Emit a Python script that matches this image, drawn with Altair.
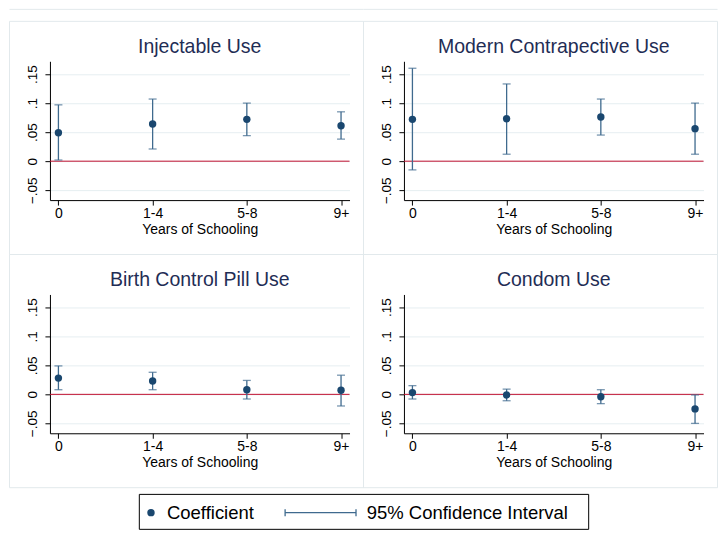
import json
import altair as alt
import pandas as pd

# ---------------- data ----------------
categories = ["0", "1-4", "5-8", "9+"]
panel_titles = ["Injectable Use", "Modern Contrapective Use",
                "Birth Control Pill Use", "Condom Use"]

injectable_coef = [0.049, 0.064, 0.072, 0.061]
injectable_lo = [0.002, 0.021, 0.044, 0.038]
injectable_hi = [0.097, 0.107, 0.100, 0.085]

modern_coef = [0.072, 0.073, 0.076, 0.056]
modern_lo = [-0.015, 0.012, 0.045, 0.012]
modern_hi = [0.160, 0.133, 0.107, 0.100]

pill_coef = [0.028, 0.023, 0.008, 0.007]
pill_lo = [0.008, 0.008, -0.008, -0.020]
pill_hi = [0.049, 0.038, 0.024, 0.033]

condom_coef = [0.003, -0.001, -0.004, -0.025]
condom_lo = [-0.008, -0.011, -0.016, -0.050]
condom_hi = [0.015, 0.009, 0.008, -0.001]

y_ticks = [-0.05, 0, 0.05, 0.1, 0.15]
x_title = "Years of Schooling"
legend_labels = ["Coefficient", "95% Confidence Interval"]

# ---------------- style ----------------
NAVY = "#1a476f"
CI = "#3f6a8e"
RED = "#c0102f"
GRID = "#e6eef1"
BOX = "#e2e9ec"
TITLE = "#1f2d55"
FONT = "Liberation Sans"

W, H = 300, 139
BL, BR, BT, BB = -40.5, 314, -40, 193.5   # panel frame around the plot area
X_DOMAIN = [0.91, 4.09]
Y_DOMAIN = [-0.067, 0.172]

label_expr = json.dumps(categories) + "[datum.value - 1]"
ylabel_expr = ("datum.value == 0 ? '0' : "
               "replace(format(datum.value, '.2~f'), '0.', '.')")

xs = alt.Scale(domain=X_DOMAIN, nice=False, zero=False)
ys = alt.Scale(domain=Y_DOMAIN, nice=False, zero=False)

xaxis = alt.Axis(values=list(range(1, len(categories) + 1)), labelExpr=label_expr,
                 title=x_title, grid=False, labelFontSize=14, labelPadding=1,
                 titleFontSize=14, titleFontWeight="normal", titlePadding=2.5,
                 labelAngle=0)
yaxis = alt.Axis(values=y_ticks, labelExpr=ylabel_expr, title=None, grid=True,
                 gridColor=GRID, gridWidth=1, labelAngle=270, labelAlign="center",
                 labelBaseline="alphabetic", labelPadding=8, labelFontSize=13.5)


def one_row():
    return pd.DataFrame({"k": [0]})


def panel(title, coef, lo, hi, top_row):
    df = pd.DataFrame({"pos": list(range(1, len(categories) + 1)),
                       "cat": categories, "coef": coef, "lo": lo, "hi": hi})
    box = alt.Chart(one_row()).mark_rect(fillOpacity=0, stroke=BOX, strokeWidth=1).encode(
        x=alt.value(BL), x2=alt.value(BR), y=alt.value(BT), y2=alt.value(BB))
    layers = [box]
    if top_row:
        layers.append(alt.Chart(one_row()).mark_rule(color=BOX, strokeWidth=1).encode(
            x=alt.value(BL), x2=alt.value(BR), y=alt.value(-52)))
    ttl = alt.Chart(one_row()).mark_text(align="center", baseline="alphabetic",
                                        fontSize=19.5, font=FONT, color=TITLE).encode(
        x=alt.value(W / 2), y=alt.value(-8.5), text=alt.value(title))
    layers.append(ttl)
    base = alt.Chart(df)
    ci = base.mark_rule(color=CI, strokeWidth=1.3).encode(
        x=alt.X("pos:Q", scale=xs, axis=xaxis),
        y=alt.Y("lo:Q", scale=ys, axis=yaxis), y2="hi:Q")
    zero = alt.Chart(pd.DataFrame({"z": [0]})).mark_rule(color=RED, strokeWidth=1).encode(
        y=alt.Y("z:Q", scale=ys, axis=yaxis))
    cap_lo = base.mark_tick(orient="horizontal", size=8, thickness=1.3, color=CI).encode(
        x=alt.X("pos:Q", scale=xs, axis=xaxis), y=alt.Y("lo:Q", scale=ys, axis=yaxis))
    cap_hi = base.mark_tick(orient="horizontal", size=8, thickness=1.3, color=CI).encode(
        x=alt.X("pos:Q", scale=xs, axis=xaxis), y=alt.Y("hi:Q", scale=ys, axis=yaxis))
    pts = base.mark_circle(size=55, color=NAVY, opacity=1).encode(
        x=alt.X("pos:Q", scale=xs, axis=xaxis), y=alt.Y("coef:Q", scale=ys, axis=yaxis))
    layers += [zero, ci, cap_lo, cap_hi, pts]
    return alt.layer(*layers).properties(width=W, height=H)


p1 = panel(panel_titles[0], injectable_coef, injectable_lo, injectable_hi, True)
p2 = panel(panel_titles[1], modern_coef, modern_lo, modern_hi, True)
p3 = panel(panel_titles[2], pill_coef, pill_lo, pill_hi, False)
p4 = panel(panel_titles[3], condom_coef, condom_lo, condom_hi, False)

ROW_GAP = BB - H - BT          # 94.5
COL_GAP = BR - W - BL          # 54.5

# ---------------- legend (placed below the panel grid) ----------------
LX = 89.5                      # left edge of legend frame
LT = BB + 6.7 - (H + ROW_GAP)  # top of legend frame relative to the legend cell
LH = 35
LW = 450
LY = LT + 18.3
LFS = 18.5
leg_box = alt.Chart(one_row()).mark_rect(fill="white", stroke="black", strokeWidth=1).encode(
    x=alt.value(LX), x2=alt.value(LX + LW), y=alt.value(LT), y2=alt.value(LT + LH))
leg_dot = alt.Chart(one_row()).mark_circle(size=55, color=NAVY, opacity=1).encode(
    x=alt.value(LX + 11.7), y=alt.value(LY))
leg_t1 = alt.Chart(one_row()).mark_text(align="left", baseline="middle", fontSize=LFS,
                                       font=FONT, color="black").encode(
    x=alt.value(LX + 27.7), y=alt.value(LY), text=alt.value(legend_labels[0]))
leg_line = alt.Chart(one_row()).mark_rule(color=CI, strokeWidth=1.3).encode(
    x=alt.value(LX + 146), x2=alt.value(LX + 217), y=alt.value(LY))
leg_cap1 = alt.Chart(one_row()).mark_rule(color=CI, strokeWidth=1.3).encode(
    x=alt.value(LX + 146), y=alt.value(LY - 3.5), y2=alt.value(LY + 3.5))
leg_cap2 = alt.Chart(one_row()).mark_rule(color=CI, strokeWidth=1.3).encode(
    x=alt.value(LX + 217), y=alt.value(LY - 3.5), y2=alt.value(LY + 3.5))
leg_t2 = alt.Chart(one_row()).mark_text(align="left", baseline="middle", fontSize=LFS,
                                       font=FONT, color="black").encode(
    x=alt.value(LX + 227.7), y=alt.value(LY), text=alt.value(legend_labels[1]))
legend = alt.layer(leg_box, leg_dot, leg_t1, leg_line, leg_cap1, leg_cap2, leg_t2).properties(
    width=W, height=1)

chart = alt.concat(p1, p2, p3, p4, legend, columns=2, bounds="flush", align="all",
                   spacing={"row": ROW_GAP, "column": COL_GAP}).properties(
    padding=0, background="white"
).configure_view(stroke="transparent").configure_axis(
    domainColor="black", tickColor="black", labelColor="black", titleColor="black",
    labelFont=FONT, titleFont=FONT, tickSize=5, domainWidth=1, tickWidth=1
)

chart.save("out.html", embed_options={"renderer": "svg", "actions": False})
